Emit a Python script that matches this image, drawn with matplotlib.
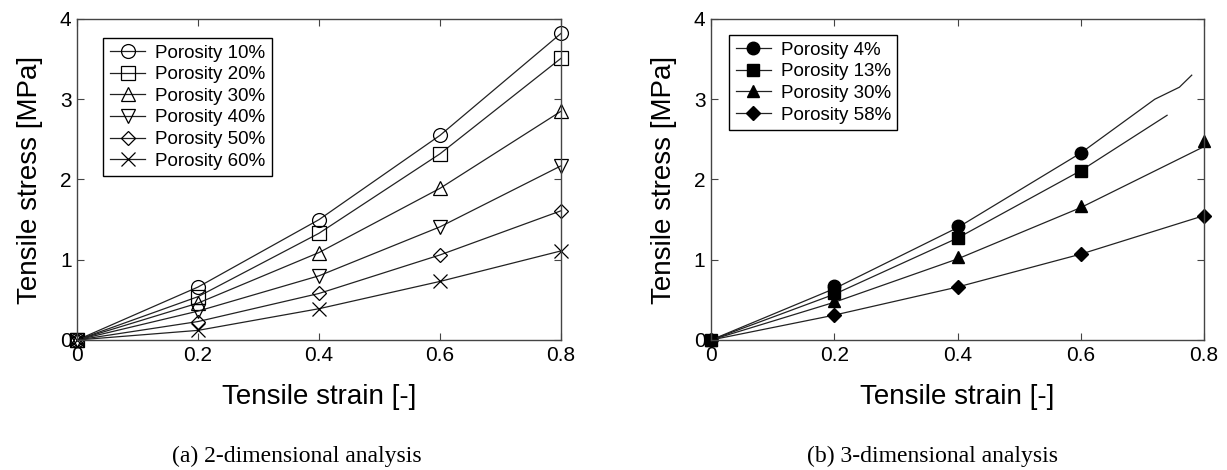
import numpy as np
import matplotlib.pyplot as plt

plt.rcParams['font.family'] = ['Liberation Sans', 'DejaVu Sans']

strain = [0, 0.2, 0.4, 0.6, 0.8]

# (a) 2-dimensional analysis
labels_2d = ['Porosity 10%', 'Porosity 20%', 'Porosity 30%',
             'Porosity 40%', 'Porosity 50%', 'Porosity 60%']
stress_2d = [
    [0, 0.66, 1.50, 2.55, 3.82],
    [0, 0.54, 1.33, 2.32, 3.51],
    [0, 0.46, 1.09, 1.89, 2.85],
    [0, 0.36, 0.80, 1.41, 2.17],
    [0, 0.23, 0.58, 1.06, 1.61],
    [0, 0.12, 0.39, 0.73, 1.11],
]
markers_2d = ['o', 's', '^', 'v', 'D', 'x']

# (b) 3-dimensional analysis
labels_3d = ['Porosity 4%', 'Porosity 13%', 'Porosity 30%', 'Porosity 58%']
mark_x_3d = [strain[:4], strain[:4], strain, strain]
mark_y_3d = [
    [0, 0.67, 1.42, 2.33],
    [0, 0.58, 1.27, 2.11],
    [0, 0.48, 1.03, 1.67, 2.48],
    [0, 0.31, 0.66, 1.07, 1.55],
]
line_x_3d = [
    [0, 0.2, 0.4, 0.6, 0.72, 0.76, 0.78],
    [0, 0.2, 0.4, 0.6, 0.74],
    [0, 0.2, 0.4, 0.6, 0.8],
    [0, 0.2, 0.4, 0.6, 0.8],
]
line_y_3d = [
    [0, 0.64, 1.40, 2.33, 3.00, 3.15, 3.30],
    [0, 0.57, 1.27, 2.11, 2.80],
    [0, 0.47, 1.01, 1.65, 2.41],
    [0, 0.31, 0.66, 1.07, 1.55],
]
markers_3d = ['o', 's', '^', 'D']

fig = plt.figure(figsize=(12.27, 4.70), dpi=100)
ax1 = fig.add_axes([0.0628, 0.2766, 0.3944, 0.683])
ax2 = fig.add_axes([0.5795, 0.2766, 0.4018, 0.683])

line_col = '#222222'

for ys, m, lab in zip(stress_2d, markers_2d, labels_2d):
    ms = 7 if m == 'D' else 10
    ax1.plot(strain, ys, color=line_col, lw=0.9, marker=m, ms=ms,
             mfc='none', mec='black', mew=0.9, label=lab, clip_on=False)

for i in range(4):
    m = markers_3d[i]
    ms = 7.5 if m == 'D' else 9
    ax2.plot(line_x_3d[i], line_y_3d[i], color=line_col, lw=0.9)
    ax2.plot(mark_x_3d[i], mark_y_3d[i], ls='none', marker=m, ms=ms,
             color='black', clip_on=False)
    # legend proxy
    ax2.plot([], [], color=line_col, lw=0.9, marker=m, ms=ms,
             mfc='black', mec='black', label=labels_3d[i])

anchors = [(0.054, 0.941), (0.0365, 0.95)]
for ax, anc in zip((ax1, ax2), anchors):
    ax.set_xlim(0, 0.8)
    ax.set_ylim(0, 4)
    ax.set_xticks([0, 0.2, 0.4, 0.6, 0.8])
    ax.set_xticklabels(['0', '0.2', '0.4', '0.6', '0.8'])
    ax.set_yticks([0, 1, 2, 3, 4])
    ax.tick_params(direction='in', top=True, right=True, length=5,
                   labelsize=15, color='#444444', pad=4)
    for s in ax.spines.values():
        s.set_color('#444444')
        s.set_linewidth(1.0)
    ax.set_xlabel('Tensile strain [-]', fontsize=20, labelpad=14)
    ax.set_ylabel('Tensile stress [MPa]', fontsize=20, labelpad=12)
    leg = ax.legend(loc='upper left', bbox_to_anchor=anc, borderaxespad=0,
                    fontsize=13.5, handlelength=1.9, handletextpad=0.5,
                    labelspacing=0.24, borderpad=0.35, fancybox=False,
                    framealpha=1, edgecolor='black')
    leg.get_frame().set_linewidth(1.0)

fig.text(0.242, 0.028, '(a) 2-dimensional analysis', ha='center',
         va='center', fontsize=17, family='Liberation Serif')
fig.text(0.760, 0.028, '(b) 3-dimensional analysis', ha='center',
         va='center', fontsize=17, family='Liberation Serif')

fig.savefig('out.png', dpi=100)
